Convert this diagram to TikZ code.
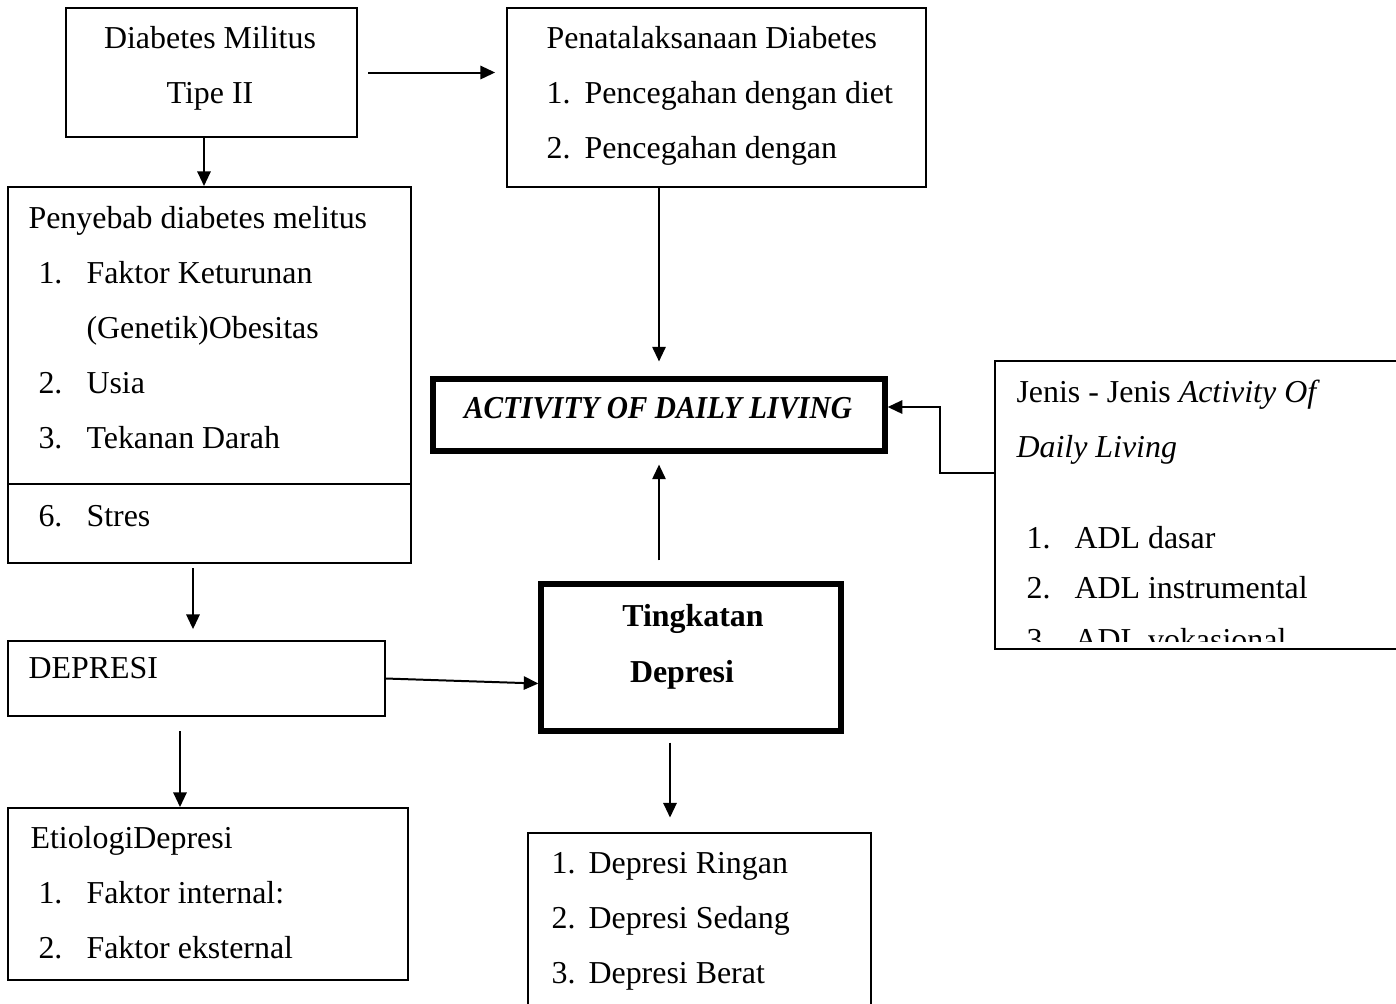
\documentclass[tikz,border=0pt]{standalone}
\usepackage{fontspec}
\setmainfont{Liberation Serif}
\usetikzlibrary{arrows.meta,calc,fit}
\begin{document}
\begin{tikzpicture}[x=0.376pt,y=-0.376pt,
  box/.style={draw, line width=0.75pt, rectangle, inner sep=0pt},
  openbox/.style={draw=none, rectangle, inner sep=0pt},
  thickbox/.style={draw, line width=2pt, rectangle, inner sep=0pt},
  txt/.style={anchor=base west, inner sep=0pt, font=\fontsize{12pt}{14pt}\selectfont},
  ctxt/.style={anchor=base, inner sep=0pt, font=\fontsize{12pt}{14pt}\selectfont},
  arr/.style={line width=0.75pt, -{Triangle[length=5.5pt,width=5pt]}},
  edge/.style={line width=0.75pt}
]
\useasboundingbox (0,0) rectangle (1396,1003);

% boxes
\node[box, fit={(66,8) (357,137)}] (dm) {};
\node[box, fit={(507,8) (926,187)}] (penat) {};
\node[box, fit={(8,187) (411,563)}] (peny) {};
\node[thickbox, fit={(433,379) (885,451)}] (adl) {};
\node[openbox, fit={(996,362) (1396,648)}] (jenis) {};
\node[box, fit={(8,641) (385,716)}] (dep) {};
\node[thickbox, fit={(541,584) (841,731)}] (ting) {};
\node[box, fit={(8,808) (408,980)}] (etio) {};
\node[openbox, fit={(529,834) (870,1003)}] (list) {};

% open outlines and divider
\draw[edge] (jenis.north east) -- (jenis.north west) -- (jenis.south west) -- (jenis.south east);
\draw[edge] (list.south west) -- (list.north west) -- (list.north east) -- (list.south east);
\draw[edge] ($(peny.north west)+(0,298)$) -- ($(peny.north east)+(0,298)$);

% texts
\node[ctxt] (t1) at (210,48) {Diabetes Militus};
\node[ctxt] (t2) at (210,103) {Tipe II};

\node[txt] (p0) at (546,48) {Penatalaksanaan Diabetes};
\node[txt] (p1n) at (546,103) {1.};
\node[txt] (p1) at (584,103) {Pencegahan dengan diet};
\node[txt] (p2n) at (546,158) {2.};
\node[txt] (p2) at (584,158) {Pencegahan dengan};

\node[txt] (s0) at (28,228) {Penyebab diabetes melitus};
\node[txt] (s1n) at (38,283) {1.};
\node[txt] (s1) at (86,283) {Faktor Keturunan};
\node[txt] (s1b) at (86,338) {(Genetik)Obesitas};
\node[txt] (s2n) at (38,393) {2.};
\node[txt] (s2) at (86,393) {Usia};
\node[txt] (s3n) at (38,448) {3.};
\node[txt] (s3) at (86,448) {Tekanan Darah};
\node[txt] (s6n) at (38,526) {6.};
\node[txt] (s6) at (86,526) {Stres};

\node[txt] (d0) at (28,678) {DEPRESI};

\node[txt] (e0) at (30,848) {EtiologiDepresi};
\node[txt] (e1n) at (38,903) {1.};
\node[txt] (e1) at (86,903) {Faktor internal:};
\node[txt] (e2n) at (38,958) {2.};
\node[txt] (e2) at (86,958) {Faktor eksternal};

\node[ctxt, font=\fontsize{12pt}{14pt}\selectfont\bfseries\itshape] (a0) at (658,418) {\scalebox{0.92}[1]{ACTIVITY OF DAILY LIVING}};

\node[ctxt, font=\fontsize{12pt}{14pt}\selectfont\bfseries] (g1) at (693,626) {Tingkatan};
\node[ctxt, font=\fontsize{12pt}{14pt}\selectfont\bfseries] (g2) at (682,682) {Depresi};

\node[txt] (l1n) at (551,873) {1.};
\node[txt] (l1) at (588,873) {Depresi Ringan};
\node[txt] (l2n) at (551,928) {2.};
\node[txt] (l2) at (588,928) {Depresi Sedang};
\node[txt] (l3n) at (551,983) {3.};
\node[txt] (l3) at (588,983) {Depresi Berat};

\node[txt] (j0) at (1016,402) {Jenis - Jenis \textit{Activity Of}};
\node[txt] (j0b) at (1016,457) {\textit{Daily Living}};
\node[txt] (j1n) at (1026,548) {1.};
\node[txt] (j1) at (1074,548) {ADL dasar};
\node[txt] (j2n) at (1026,598) {2.};
\node[txt] (j2) at (1074,598) {ADL instrumental};
\begin{scope}
\clip (996,362) rectangle (1396,641);
\node[txt] (j3n) at (1026,650) {3.};
\node[txt] (j3) at (1074,650) {ADL vokasional};
\end{scope}

% connectors
\coordinate (a1) at ($(dm.south)+(-7.5,0)$);
\draw[arr] (a1) -- (a1 |- peny.north);

\draw[arr, shorten <=3.8pt, shorten >=4.1pt] (dm.east) -- (dm.east -| penat.west);

\draw[arr, shorten >=5.6pt] (penat.south -| adl.north) -- (adl.north);

\draw[arr, shorten <=7.9pt, shorten >=4.1pt] (adl.south |- ting.north) -- (adl.south);

\coordinate (jl) at ($(jenis.north west)+(0,112)$);
\coordinate (bx) at (940,407);
\coordinate (ae) at ($(adl.east)+(0,-8)$);
\draw[arr] (jl) -| (bx) -- (ae);

\coordinate (a2) at ($(peny.south)+(-16.5,0)$);
\draw[arr, shorten <=1.5pt, shorten >=4.1pt] (a2) -- (a2 |- dep.north);

\coordinate (tw) at ($(ting.west)+(0,26)$);
\draw[arr] (dep.east) -- (tw);

\coordinate (a3) at ($(dep.south)+(-16.5,0)$);
\draw[arr, shorten <=5.3pt] (a3) -- (a3 |- etio.north);

\coordinate (a4) at ($(ting.south)+(-21,0)$);
\draw[arr, shorten <=3.4pt, shorten >=6pt] (a4) -- (a4 |- list.north);
\end{tikzpicture}
\end{document}
